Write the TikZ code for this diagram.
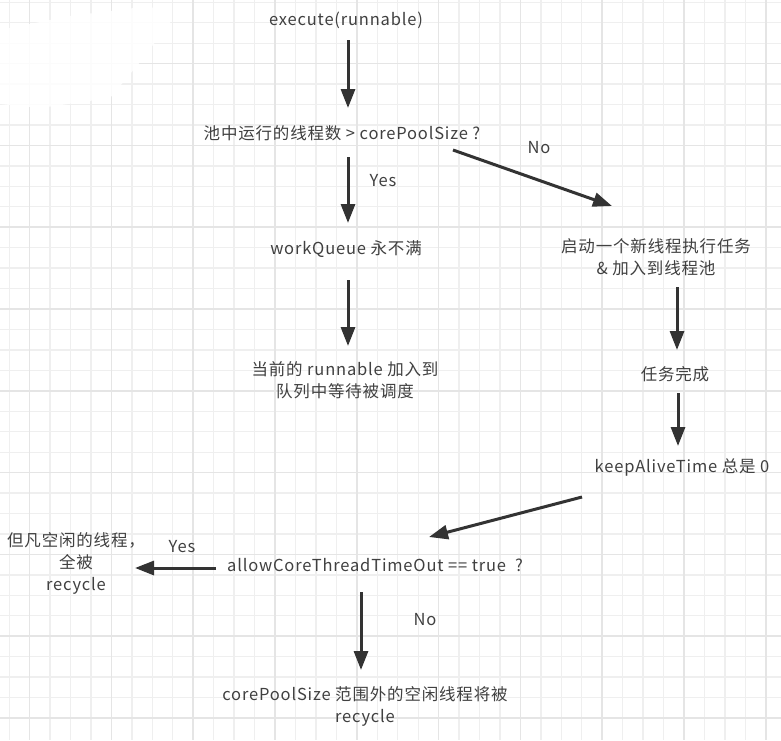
\documentclass[tikz,border=0pt]{standalone}
\usepackage{fontspec}
\setmainfont[LetterSpace=5]{Noto Sans CJK SC}
\usetikzlibrary{arrows.meta}
\definecolor{ink}{HTML}{333333}
\definecolor{txt}{HTML}{404040}
\definecolor{gridminor}{HTML}{EFEFEF}
\definecolor{gridmajor}{HTML}{E5E5E5}

\begin{document}
\begin{tikzpicture}[x=1pt,y=-1pt,
  lbl/.style={text=txt, font=\fontsize{16.5}{22}\selectfont, align=center, inner sep=0pt},
  flow/.style={draw=ink, line width=3pt, -{Triangle[length=19pt,width=14pt]}},
]
% canvas
\fill[white] (0,0) rectangle (781,740);
\useasboundingbox (0,0) rectangle (781,740);

% squared paper
\foreach \i in {0,...,37} {\draw[gridminor, line width=1.3pt] ({9.15+20.45*\i},0) -- ++(0,740);}
\foreach \j in {0,...,35} {\draw[gridminor, line width=1.3pt] (0,{2.25+20.45*\j}) -- ++(781,0);}
\foreach \i in {0,...,9} {\draw[gridmajor, line width=1.6pt] ({29.6+81.8*\i},0) -- ++(0,740);}
\foreach \j in {0,...,8} {\draw[gridmajor, line width=1.6pt] (0,{63.6+81.8*\j}) -- ++(781,0);}

% erased corner
\fill[white, opacity=0.85] (0,30) -- (70,16) -- (150,6) -- (172,20) -- (140,62) -- (110,98) -- (40,108) -- (0,104) -- cycle;

% texts
\node[lbl] (exec)  at (346,20)  {execute(runnable)};
\node[lbl] (q1)    at (342,133) {池中运行的线程数 > corePoolSize ?};
\node[lbl] (wq)    at (346,249) {workQueue 永不满};
\node[lbl] (enq)   at (345,380) {当前的 runnable 加入到\\队列中等待被调度};
\node[lbl] (newth) at (656,257) {启动一个新线程执行任务\\\& 加入到线程池};
\node[lbl] (done)  at (675,374) {任务完成};
\node[lbl] (keep)  at (682,467) {keepAliveTime 总是 0};
\node[lbl] (q2)    at (375,565) {allowCoreThreadTimeOut == true\ \ ?};
\node[lbl] (all)   at (76,563.5) {但凡空闲的线程，\\全被\\recycle};
\node[lbl] (out)   at (365,706.5) {corePoolSize 范围外的空闲线程将被\\recycle};

\node[lbl] (yes1) at (383,181) {Yes};
\node[lbl] (no1)  at (539,148) {No};
\node[lbl] (yes2) at (182,547) {Yes};
\node[lbl] (no2)  at (425,620) {No};

% connectors
\draw[flow] ([shift={(2,20)}]exec.center) -- ([shift={(6,-25)}]q1.center);
\draw[flow] ([shift={(6,24)}]q1.center) -- ([shift={(2,-26)}]wq.center);
\draw[flow] ([shift={(111,17)}]q1.center) -- ([shift={(-44,-51)}]newth.center);
\draw[flow] ([shift={(2,31)}]wq.center) -- ([shift={(3,-34)}]enq.center);
\draw[flow] ([shift={(21,30)}]newth.center) -- ([shift={(2,-24)}]done.center);
\draw[flow] ([shift={(3,19)}]done.center) -- ([shift={(-4,-21)}]keep.center);
\draw[flow] ([shift={(-100,30)}]keep.center) -- ([shift={(54,-28)}]q2.center);
\draw[flow] ([shift={(-159,3)}]q2.center) -- ([shift={(59,4.5)}]all.center);
\draw[flow] ([shift={(-14,27)}]q2.center) -- ([shift={(-4,-36.5)}]out.center);
\end{tikzpicture}
\end{document}
